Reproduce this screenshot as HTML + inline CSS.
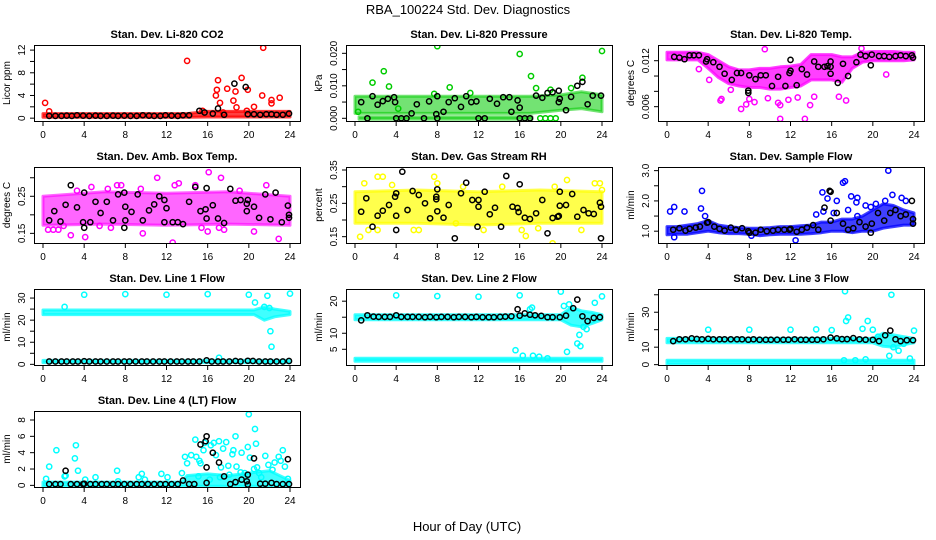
<!DOCTYPE html>
<html><head><meta charset="utf-8">
<style>
html,body{margin:0;padding:0;background:#fff;}
svg{display:block;font-family:"Liberation Sans",Arial,sans-serif;}
</style></head>
<body>
<svg id="fig" width="936" height="540" viewBox="0 0 936 540" xmlns="http://www.w3.org/2000/svg">
<text x="468" y="14" text-anchor="middle" font-size="13">RBA_100224  Std. Dev. Diagnostics</text>
<text x="467" y="531" text-anchor="middle" font-size="13">Hour of Day (UTC)</text>
</svg>
<script>
// ---------- DATA ----------
const xTicks = [0,4,8,12,16,20,24];

// CO2
const co2BandH  = [0,14,16,24];
const co2BandLo = [0.15,0.15,0.2,0.2];
const co2BandHi = [0.8,0.8,1.2,1.2];
const co2Pts = [[0.2,2.7],[0.6,1.2],[14,10.1],[16.8,4],[17,6.7],[16.9,5],[17.2,2.7],[17.9,5.2],[18.5,3.1],[18.7,4.7],[18.8,1.9],[19.3,7.1],[19.9,5],[19.8,1.3],[20.5,2],[21.3,4],[21.4,12.4],[22.2,3.2],[22.2,2.6],[23,3.6],[15.5,1.3],[17.5,1.0]];
const co2Blk = [[0.6,0.4],[1.2,0.4],[1.8,0.4],[2.3,0.45],[2.8,0.4],[3.3,0.5],[3.9,0.45],[4.5,0.4],[5.1,0.45],[5.6,0.4],[6.2,0.4],[6.8,0.45],[7.3,0.4],[7.9,0.45],[8.5,0.4],[9.1,0.4],[9.7,0.5],[10.3,0.45],[10.8,0.4],[11.4,0.4],[11.9,0.5],[12.5,0.45],[13.1,0.4],[13.6,0.5],[14.2,0.5],[15.2,1.3],[15.7,1],[16.5,0.8],[17,1.7],[17.6,0.6],[18.6,6.1],[19.7,5.5],[19.9,0.7],[20.5,0.7],[21.1,0.6],[21.7,0.7],[22.2,0.7],[22.7,0.6],[23.3,0.6],[23.9,0.8]];

// Pressure
const prBandH  = [0,17,20,22,24];
const prBandLo = [0.0015,0.0015,0.0025,0.003,0.002];
const prBandHi = [0.0068,0.0068,0.0072,0.0082,0.0072];
const prBand2H  = [0.4,17.2];
const prBand2Lo = [-0.0003,-0.0003];
const prBand2Hi = [0.0005,0.0005];
const prPts = [[1.7,0.011],[2.8,0.0145],[3.3,0.0098],[8,0.0222],[9.2,0.0095],[16,0.0198],[17.1,0.013],[17.6,0.0093],[22.1,0.0125],[21,0.0093],[24,0.0207],[18,0],[18.5,0],[19,0],[19.5,0],[0.3,0.002],[4.2,0.003],[7.7,0.0075],[11.2,0.0078],[19,0.0088]];
const prBlk = [[0.6,0.005],[1.2,0],[1.7,0.0068],[2.2,0.0042],[2.7,0.0053],[3.2,0.006],[3.8,0.0065],[3.9,0.005],[4,0],[4.5,0],[5,0],[5.5,0.0015],[6,0.0043],[6.7,0],[7.2,0.0052],[7.9,0.0013],[8,0.0068],[8,0],[8.6,0.002],[9.1,0.005],[9.7,0.0062],[10.3,0.0035],[10.8,0.0068],[11.3,0.005],[11.8,0.0052],[12,0],[12.6,0],[13.1,0.006],[13.8,0.0045],[14.4,0.0065],[15,0.0065],[15.2,0.002],[15.8,0.0055],[16,0.0033],[16,0],[16.5,0],[17,0],[17.6,0.007],[18.2,0.0063],[18.7,0.0078],[19.2,0.008],[19.8,0.0085],[19.8,0.005],[19.9,0.006],[20.5,0.0025],[21,0.0066],[21.6,0.01],[22.1,0.0112],[22.6,0.0043],[23.1,0.007],[23.9,0.007]];

// Li-820 Temp
const tmBandH  = [0,1,2,3,4,5,6,7,8,9,10,11,12,13,14,15,16,17,18,19,20,21,22,23,24];
const tmBandLo = [0.0121,0.0121,0.0121,0.0121,0.011,0.0098,0.009,0.0087,0.0085,0.0085,0.0083,0.0083,0.0085,0.0087,0.0095,0.0095,0.0095,0.0092,0.011,0.0118,0.012,0.012,0.012,0.012,0.0121];
const tmBandHi = [0.0131,0.0131,0.0131,0.0131,0.0128,0.012,0.0112,0.0108,0.0108,0.011,0.011,0.0112,0.0113,0.0115,0.0128,0.0128,0.0128,0.0125,0.0125,0.0131,0.0132,0.0132,0.0132,0.0131,0.0131];
const tmPts = [[5.2,0.0068],[5.3,0.007],[7.2,0.0057],[7.7,0.0063],[8.5,0.0066],[9.8,0.0071],[10.8,0.0065],[11,0.0062],[11,0.0044],[11.8,0.0069],[13.4,0.0044],[13.9,0.0062],[14.3,0.0073],[9.5,0.0135],[16.7,0.0073],[17.4,0.0068],[18.9,0.0136],[21.3,0.0102],[8,0.007],[3.1,0.0109],[4.1,0.0095],[6.2,0.0082],[12.7,0.0072]];
const tmBlk = [[0.7,0.0125],[1.2,0.0124],[1.7,0.0122],[2.2,0.0127],[2.6,0.0127],[3.1,0.0127],[3.8,0.0119],[3.9,0.0122],[4.5,0.0118],[5.1,0.0112],[5.6,0.0103],[6.3,0.0095],[6.8,0.0104],[7.2,0.0104],[7.9,0.0081],[7.9,0.0078],[8,0.0101],[8.6,0.0096],[9.1,0.0101],[9.6,0.0101],[10.2,0.0087],[10.8,0.0099],[11.5,0.0087],[11.9,0.0104],[12,0.0107],[12,0.0121],[12.6,0.0088],[13.1,0.0109],[13.6,0.0102],[14.3,0.0119],[14.7,0.0112],[15.3,0.0112],[15.6,0.0113],[15.9,0.0112],[15.9,0.0119],[15.9,0.0103],[16.6,0.0091],[17.1,0.0116],[17.6,0.01],[18.4,0.0118],[18.8,0.0128],[19.3,0.0126],[19.9,0.0128],[19.8,0.0114],[20.6,0.0126],[21.1,0.0126],[21.6,0.0125],[22.2,0.0126],[22.7,0.0127],[23.2,0.0126],[23.8,0.0127],[23.9,0.0124]];

// Amb box temp
const abBandH  = [0,6,12,18,24];
const abBandLo = [0.172,0.175,0.172,0.175,0.172];
const abBandHi = [0.25,0.262,0.258,0.262,0.25];
const abPts = [[0.5,0.16],[1,0.16],[1.5,0.16],[2,0.17],[2.7,0.145],[4.1,0.14],[4.7,0.275],[5.5,0.17],[6.6,0.165],[7.2,0.28],[7.6,0.28],[9.7,0.15],[11.1,0.3],[12.6,0.125],[12.8,0.28],[13.2,0.285],[14.8,0.28],[15.4,0.165],[16,0.155],[16.1,0.315],[17.3,0.3],[17.1,0.165],[17.6,0.16],[20.5,0.155],[21.7,0.28],[22.9,0.135],[9.5,0.27],[3.3,0.265],[19.1,0.265],[6.3,0.27]];
const abBlk = [[0.6,0.185],[1.1,0.21],[1.7,0.182],[2.2,0.227],[2.7,0.28],[3.3,0.22],[3.9,0.18],[4,0.165],[4,0.26],[4.6,0.18],[5.1,0.235],[5.6,0.205],[6.2,0.235],[6.8,0.185],[7.3,0.255],[7.9,0.165],[7.9,0.26],[8,0.185],[8,0.222],[8.6,0.208],[9.2,0.255],[9.7,0.185],[10.3,0.212],[10.8,0.228],[11.3,0.25],[11.8,0.18],[11.8,0.24],[12,0.218],[12.6,0.18],[13.1,0.18],[13.6,0.175],[14.2,0.235],[14.8,0.275],[15.3,0.21],[15.8,0.215],[15.9,0.272],[15.9,0.19],[16.5,0.226],[17,0.19],[17.6,0.178],[18.2,0.27],[18.7,0.238],[19.2,0.24],[19.8,0.21],[19.8,0.23],[19.9,0.24],[20.5,0.222],[21,0.192],[21.6,0.255],[22.1,0.188],[22.6,0.26],[23.2,0.18],[23.8,0.225],[23.9,0.192],[23.9,0.2]];

// Gas stream RH
const rhBandH  = [0,6,12,18,24];
const rhBandLo = [0.19,0.19,0.185,0.19,0.19];
const rhBandHi = [0.285,0.29,0.285,0.29,0.285];
const rhPts = [[0.5,0.15],[0.9,0.31],[2.2,0.33],[2.7,0.33],[3.6,0.305],[5.7,0.17],[7.7,0.33],[8,0.31],[9.8,0.19],[12.5,0.17],[14.3,0.3],[16.2,0.17],[16.6,0.152],[17.8,0.175],[19.2,0.13],[19.4,0.3],[20.6,0.32],[22,0.17],[23.3,0.31],[23.8,0.31],[24,0.29],[1.3,0.17],[2.2,0.17],[6.2,0.17],[10.5,0.3]];
const rhBlk = [[0.6,0.225],[1.1,0.265],[1.7,0.18],[2.2,0.213],[2.7,0.228],[3.3,0.245],[3.9,0.27],[4,0.213],[4,0.28],[4,0.17],[4.6,0.345],[5.1,0.23],[5.6,0.287],[6.2,0.275],[6.8,0.25],[7.3,0.205],[7.9,0.262],[7.9,0.27],[8,0.292],[8,0.226],[8.6,0.207],[9.1,0.245],[9.7,0.145],[10.3,0.28],[10.8,0.312],[11.4,0.26],[11.9,0.18],[12,0.24],[12,0.26],[12.6,0.285],[13.1,0.217],[13.6,0.237],[14.2,0.18],[14.7,0.332],[15.3,0.24],[15.8,0.236],[15.9,0.224],[16,0.307],[16.5,0.207],[17,0.203],[17.6,0.22],[18.2,0.26],[18.7,0.16],[19.2,0.206],[19.7,0.21],[19.8,0.212],[19.9,0.243],[19.9,0.285],[20.5,0.245],[21.1,0.278],[21.6,0.21],[22.2,0.23],[22.7,0.22],[23.2,0.218],[23.8,0.252],[23.9,0.24],[23.9,0.145]];

// Sample flow
const sfBandH  = [0,1,2,3,4,5,6,7,8,9,10,11,12,13,14,15,16,17,18,19,20,21,22,23,24];
const sfBandLo = [0.88,0.9,0.9,0.95,1.0,0.95,0.92,0.92,0.9,0.85,0.88,0.9,0.9,0.9,0.92,0.95,1.0,1.0,0.95,1.0,1.0,1.1,1.15,1.2,1.2];
const sfBandHi = [1.15,1.15,1.2,1.25,1.35,1.2,1.15,1.12,1.1,1.1,1.12,1.15,1.15,1.18,1.2,1.3,1.3,1.4,1.4,1.5,1.7,1.9,1.85,1.7,1.6];
const sfPts = [[0.3,1.65],[0.7,1.8],[1.7,1.65],[3.3,1.75],[3.4,2.33],[3.7,1.5],[12.5,0.7],[14.5,1.55],[15.1,2.28],[15.6,2.08],[15.2,1.65],[16.5,2],[17.1,2.6],[17.3,2.65],[17.6,1.7],[17.9,2.15],[18.4,1.95],[18.5,2.1],[19.3,1.85],[19.8,1.8],[20.3,1.9],[21.2,2.0],[21.5,3.0],[21.9,2.2],[22.8,2.1],[23.2,2.0],[18.5,1.5],[16.2,1.6],[0.7,0.8],[8.2,0.85]];
const sfBlk = [[0.6,1.05],[1.2,1.1],[1.8,1.02],[2.2,1.08],[2.8,1.12],[3.2,1.15],[3.9,1.28],[4,1.3],[4.6,1.15],[5.1,1.08],[5.6,1.02],[6.2,1.12],[6.7,1.05],[7.3,1.1],[7.9,1.0],[8,0.95],[8.6,0.95],[9.1,1.05],[9.7,1.0],[10.3,1.02],[10.8,1.05],[11.4,1.05],[11.9,1.05],[12,1.08],[12.6,0.98],[13.1,1.05],[13.6,1.12],[14.2,1.2],[14.7,1.05],[15.3,1.78],[15.8,2.33],[15.9,2.3],[15.9,1.35],[16.5,1.6],[17.1,1.25],[17.6,1.05],[18.1,1.1],[18.7,1.3],[19.3,1.15],[19.8,0.95],[19.9,1.25],[20.5,1.6],[21.1,1.35],[21.7,1.6],[22.2,1.7],[22.7,1.5],[23.2,1.55],[23.8,2.0],[23.9,1.4],[23.9,1.25]];

// Line 1 flow
const l1BandH  = [0,20.5,21.5,22.5,24];
const l1BandLo = [22.5,22.5,20,21.5,22.5];
const l1BandHi = [24.6,24.6,26,25,24];
const l1Band2H  = [0,24];
const l1Band2Lo = [0.8,0.8];
const l1Band2Hi = [1.8,1.8];
const l1Pts = [[2.1,26],[4,31.5],[8,31.8],[12,31.5],[16,31.8],[17.1,3],[20,31.5],[20.6,28],[21.5,26],[21.8,31],[22,25.5],[22.1,15],[22.2,8],[24,32]];
const l1Blk = [[0.6,1.3],[1.2,1.3],[1.8,1.3],[2.3,1.3],[2.9,1.3],[3.4,1.3],[4,1.4],[4.5,1.3],[5.1,1.3],[5.6,1.3],[6.2,1.3],[6.8,1.3],[7.3,1.3],[7.9,1.3],[8.4,1.3],[9,1.3],[9.6,1.3],[10.1,1.3],[10.7,1.3],[11.3,1.3],[11.8,1.3],[12.4,1.3],[13,1.3],[13.5,1.3],[14.1,1.3],[14.6,1.3],[15.2,1.3],[15.9,1.8],[16.4,1.3],[17,1.3],[17.5,1.3],[18.1,1.3],[18.7,1.5],[19.2,1.3],[19.9,1.6],[20.4,1.5],[21,1.3],[21.6,1.3],[22.1,1.3],[22.7,1.3],[23.3,1.3],[23.9,1.5]];

// Line 2 flow
const l2BandH  = [0,20,21,22,23,24];
const l2BandLo = [14.2,14.2,12.5,12,13,14.2];
const l2BandHi = [15.8,15.8,18,17,16.5,15.8];
const l2Band2H  = [0,24];
const l2Band2Lo = [1.3,1.3];
const l2Band2Hi = [2.2,2.2];
const l2Pts = [[4,21.8],[8,21.6],[12,21.4],[15.6,4.7],[16,21.8],[16.3,3],[17.3,3],[17.9,2.7],[17,17.5],[17.2,18],[20,23],[20.3,18.5],[20.6,4.2],[20.8,19],[21.6,6.8],[21.8,9.5],[21.9,6],[22.2,12],[22.5,11.3],[23.3,19.5],[24,21.5],[18.7,2.2]];
const l2Blk = [[0.6,14],[1.2,15.6],[1.8,15.2],[2.3,15.1],[2.9,15.1],[3.4,15.1],[4,15.6],[4.5,15.1],[5.1,15.1],[5.6,15.1],[6.2,15.1],[6.8,15],[7.3,15.1],[7.9,15],[8.4,15.1],[9,15.1],[9.6,15],[10.1,15.1],[10.7,15.1],[11.3,15],[11.8,15.1],[12.4,15],[13,15],[13.5,15],[14.1,15.1],[14.6,15.2],[15.2,15.3],[15.8,17.5],[16,15.5],[16.5,16.2],[17,15.8],[17.5,15.6],[18.1,15.4],[18.7,15],[19.2,15],[19.9,15],[20.5,15.5],[21.2,17.8],[21.6,20.5],[22.1,15.3],[22.6,13.8],[23.2,14.8],[23.8,15]];

// Line 3 flow
const l3BandH  = [0,20,21,22,23,24];
const l3BandLo = [12.5,12.5,10.5,10,11.5,12.5];
const l3BandHi = [15,15,18,17,16,15];
const l3Band2H  = [0,24];
const l3Band2Lo = [0.3,0.3];
const l3Band2Hi = [2.5,2.5];
const l3Pts = [[4,20],[8,20],[12,20],[14.5,20.2],[16,19.8],[17.3,42],[17.4,25],[17.6,27],[19,20.5],[19.5,25],[20,20],[20.5,16],[21.6,5],[21.8,40],[22,10],[22.5,8],[23,12],[23.6,3.5],[24,19.5],[19.3,3],[17.2,2.5],[18.3,2.5]];
const l3Blk = [[0.6,13.5],[1.2,14.5],[1.8,14.5],[2.4,15],[2.9,14.7],[3.4,14.5],[4,14.8],[4.5,14.5],[5.1,14.5],[5.6,14.5],[6.2,14.5],[6.8,14.5],[7.3,14.5],[7.9,14.3],[8.4,14.5],[9,14.3],[9.6,14.3],[10.1,14.3],[10.7,14.3],[11.3,14.3],[11.8,14.3],[12.4,14.5],[13,14.3],[13.5,14.3],[14.1,14.3],[14.6,14.3],[15.2,14.5],[15.9,15.5],[16.5,15],[17,14.6],[17.5,14.6],[18.1,15.2],[18.7,14.5],[19.3,14.3],[20,14.2],[20.6,13.5],[21.2,16.8],[21.7,19.5],[22.2,14.5],[22.7,13.5],[23.3,14],[23.9,14]];

// Line 4 flow
const l4BandH  = [0,13.5,14,16,18,20,22,24];
const l4BandLo = [-0.1,-0.1,-0.1,-0.1,-0.1,-0.1,-0.1,-0.1];
const l4BandHi = [0.4,0.4,1.2,1.4,1.2,1.5,1.8,0.6];
const l4Pts = [[0.3,0.8],[0.6,2.3],[1.3,4.3],[2.1,1.1],[3.1,3.3],[3.2,4.9],[3.4,1.8],[4.1,0.7],[5.1,1],[7.2,1.8],[7.3,0.5],[9.3,1],[9.6,1.4],[9.9,0.7],[11.5,1.4],[12.1,1],[13.5,1.5],[13.8,3.5],[14.4,3.7],[14.8,5.6],[14.9,3.5],[15.2,3.0],[15.3,2.7],[15.7,5.2],[15.6,4.3],[16.3,4.9],[16.6,5.2],[16.8,3.7],[17.1,5.4],[17.3,2.2],[17.5,4.5],[17.8,5.3],[18,2.4],[18.4,3.8],[18.5,4.3],[18.7,6],[18.8,2.3],[19.3,4],[19.6,1.5],[19.9,4.7],[20,8.7],[20.1,3.4],[20.6,6.9],[20.7,5.1],[20.8,2.2],[21,1.5],[21.6,3.6],[21.9,2.5],[22.3,1.9],[22.5,2.8],[22.9,3.5],[23.1,3.0],[23.3,4.3],[23.5,2.3],[23.8,0.8],[16.2,0.7],[19.2,1.6],[14,2.7],[15.1,1.1],[17.2,1.0],[18.1,1.3],[20.5,2],[21.2,1],[2.2,1.2]];
const l4Blk = [[0.6,0.15],[1.2,0.15],[1.7,0.15],[2.2,1.8],[2.7,0.15],[3.3,0.15],[3.9,0.15],[4,0.2],[4.6,0.15],[5.1,0.15],[5.7,0.15],[6.2,0.15],[6.8,0.15],[7.3,0.15],[7.9,0.15],[8.5,0.15],[9.1,0.15],[9.6,0.15],[10.2,0.15],[10.8,0.15],[11.4,0.15],[11.9,0.15],[12.5,0.15],[13.1,0.15],[13.6,0.6],[14.2,0.15],[14.7,0.15],[15.3,5],[15.8,5.4],[15.9,6],[15.9,2.2],[15.9,0.3],[16.5,4],[17.1,2.8],[17.6,1.1],[18.2,0.15],[18.7,0.4],[19.3,0.7],[19.8,0.5],[19.9,1.3],[19.9,0.1],[20.5,3.3],[21.1,0.2],[21.6,0.2],[22.2,0.3],[22.7,0.15],[23.3,0.15],[23.8,3.2],[23.9,0.15]];

// ---------- RENDER ----------
const NS = "http://www.w3.org/2000/svg";
const svg = document.getElementById('fig');
const colLeft = [34, 346, 658];
const rowTop = [45, 167, 289, 411];
const BW = 266, BH = 76;

function mk(tag, attrs, parent){
  const e = document.createElementNS(NS, tag);
  for (const k in attrs) e.setAttribute(k, attrs[k]);
  (parent||svg).appendChild(e);
  return e;
}

function panel(cfg){
  const L = colLeft[cfg.col], T = rowTop[cfg.row], R = L+BW, B = T+BH;
  const x0 = L+9, x24 = L+256;
  const xs = h => x0 + (x24-x0)*h/24;
  const ys = v => B - (v-cfg.ylo)/(cfg.yhi-cfg.ylo)*BH;
  const g = mk('g', {});
  
  
  const cid = 'clip-' + cfg.name;
  const cp = mk('clipPath', {id: cid}, g);
  mk('rect', {x: L, y: T, width: BW, height: BH}, cp);
  const plot = mk('g', {'clip-path': 'url(#'+cid+')'}, g);
  
  
  const op = cfg.bandOpacity || 0.75;
  (cfg.bands||[]).forEach((bd, bi) => {
    const [H, LO, HI] = bd;
    let pts = [];
    for (let i=0;i<H.length;i++) pts.push(xs(H[i]).toFixed(1)+','+ys(HI[i]).toFixed(1));
    for (let i=H.length-1;i>=0;i--) pts.push(xs(H[i]).toFixed(1)+','+ys(LO[i]).toFixed(1));
    const p = mk('polygon', {points: pts.join(' '), fill: cfg.color, 'fill-opacity': op, stroke: cfg.color, 'stroke-opacity': op, 'stroke-width': 3, 'stroke-linejoin': 'round'}, plot);
    
    
  });
  cfg.pts.forEach(d => {
    const c = mk('circle', {cx: xs(d[0]).toFixed(1), cy: ys(d[1]).toFixed(1), r: 2.6, fill: 'none', stroke: cfg.color, 'stroke-width': 1.5}, plot);
    
    
  });
  cfg.blk.forEach(d => {
    const c = mk('circle', {cx: xs(d[0]).toFixed(1), cy: ys(d[1]).toFixed(1), r: 2.6, fill: 'none', stroke: '#000', 'stroke-width': 1.5}, plot);
    
    
  });
  const box = mk('rect', {x: L+0.5, y: T+0.5, width: BW, height: BH, fill: 'none', stroke: '#000', 'stroke-width': 1}, g);
  
  
  const xa = mk('g', {}, g);
  
  
  mk('line', {x1: xs(0), x2: xs(24), y1: B+0.5, y2: B+0.5, stroke: '#000'}, xa);
  xTicks.forEach(t => {
    mk('line', {x1: xs(t), x2: xs(t), y1: B, y2: B+5, stroke: '#000'}, xa);
    const tx = mk('text', {x: xs(t), y: B+17, 'text-anchor': 'middle', 'font-size': 10}, xa);
    tx.textContent = t;
    
    
  });
  const ya = mk('g', {}, g);
  
  
  const t0 = cfg.yticks[0], tn = cfg.yticks[cfg.yticks.length-1];
  mk('line', {x1: L+0.5, x2: L+0.5, y1: ys(t0), y2: ys(tn), stroke: '#000'}, ya);
  cfg.yticks.forEach((t, i) => {
    const y = ys(t);
    mk('line', {x1: L-4, x2: L, y1: y, y2: y, stroke: '#000'}, ya);
    if (cfg.ylabels[i] !== '') {
      const tx = mk('text', {x: L-9, y: y, 'text-anchor': 'middle', 'font-size': 10, transform: 'rotate(-90 '+(L-9)+' '+y+')'}, ya);
      tx.textContent = cfg.ylabels[i];
      
      
    }
  });
  const yl = mk('text', {x: L-24, y: T+BH/2, 'text-anchor': 'middle', 'font-size': 10, transform: 'rotate(-90 '+(L-24)+' '+(T+BH/2)+')'}, g);
  yl.textContent = cfg.ylab;
  
  
  const tt = mk('text', {x: L+BW/2, y: T-7, 'text-anchor': 'middle', 'font-size': 11, 'font-weight': 'bold'}, g);
  tt.textContent = cfg.title;
  
  
}

panel({name:'co2', col:0,row:0, ylo:-0.5, yhi:12.9, color:'#ff0000', title:'Stan. Dev. Li-820 CO2', ylab:'Licor ppm',
  yticks:[0,2,4,6,8,10,12], ylabels:['0','','4','','8','','12'],
  bands:[[co2BandH,co2BandLo,co2BandHi]], pts:co2Pts, blk:co2Blk});
panel({name:'pressure', col:1,row:0, ylo:-0.00083, yhi:0.02256, color:'#00cc00', bandOpacity:0.55, title:'Stan. Dev. Li-820 Pressure', ylab:'kPa',
  yticks:[0,0.005,0.01,0.015,0.02], ylabels:['0.000','','0.010','','0.020'],
  bands:[[prBandH,prBandLo,prBandHi],[prBand2H,prBand2Lo,prBand2Hi]], pts:prPts, blk:prBlk});
panel({name:'licor-temp', col:2,row:0, ylo:0.00413, yhi:0.01405, color:'#ff00ff', title:'Stan. Dev. Li-820 Temp.', ylab:'degrees C',
  yticks:[0.006,0.008,0.01,0.012], ylabels:['0.006','','','0.012'],
  bands:[[tmBandH,tmBandLo,tmBandHi]], pts:tmPts, blk:tmBlk});
panel({name:'amb-box-temp', col:0,row:1, ylo:0.124, yhi:0.329, color:'#ff00ff', bandOpacity:0.6, title:'Stan. Dev. Amb. Box Temp.', ylab:'degrees C',
  yticks:[0.15,0.2,0.25,0.3], ylabels:['0.15','','0.25',''],
  bands:[[abBandH,abBandLo,abBandHi]], pts:abPts, blk:abBlk});
panel({name:'gas-rh', col:1,row:1, ylo:0.131, yhi:0.359, color:'#ffff00', bandOpacity:0.7, title:'Stan. Dev. Gas Stream RH', ylab:'percent',
  yticks:[0.15,0.2,0.25,0.3,0.35], ylabels:['0.15','','0.25','','0.35'],
  bands:[[rhBandH,rhBandLo,rhBandHi]], pts:rhPts, blk:rhBlk});
panel({name:'sample-flow', col:2,row:1, ylo:0.61, yhi:3.12, color:'#0000ff', title:'Stan. Dev. Sample Flow', ylab:'ml/min',
  yticks:[1,1.5,2,2.5,3], ylabels:['1.0','','2.0','','3.0'],
  bands:[[sfBandH,sfBandLo,sfBandHi]], pts:sfPts, blk:sfBlk});
panel({name:'line1-flow', col:0,row:2, ylo:-0.3, yhi:34.1, color:'#00ffff', title:'Stan. Dev. Line 1 Flow', ylab:'ml/min',
  yticks:[0,5,10,15,20,25,30], ylabels:['0','','10','','20','','30'],
  bands:[[l1BandH,l1BandLo,l1BandHi],[l1Band2H,l1Band2Lo,l1Band2Hi]], pts:l1Pts, blk:l1Blk});
panel({name:'line2-flow', col:1,row:2, ylo:0.1, yhi:23.8, color:'#00ffff', title:'Stan. Dev. Line 2 Flow', ylab:'ml/min',
  yticks:[5,10,15,20], ylabels:['5','10','','20'],
  bands:[[l2BandH,l2BandLo,l2BandHi],[l2Band2H,l2Band2Lo,l2Band2Hi]], pts:l2Pts, blk:l2Blk});
panel({name:'line3-flow', col:2,row:2, ylo:-0.2, yhi:43.3, color:'#00ffff', title:'Stan. Dev. Line 3 Flow', ylab:'ml/min',
  yticks:[0,10,20,30,40], ylabels:['0','10','','30',''],
  bands:[[l3BandH,l3BandLo,l3BandHi],[l3Band2H,l3Band2Lo,l3Band2Hi]], pts:l3Pts, blk:l3Blk});
panel({name:'line4-flow', col:0,row:3, ylo:-0.2, yhi:9.1, color:'#00ffff', title:'Stan. Dev. Line 4 (LT) Flow', ylab:'ml/min',
  yticks:[0,2,4,6,8], ylabels:['0','2','4','6','8'],
  bands:[[l4BandH,l4BandLo,l4BandHi]], pts:l4Pts, blk:l4Blk});
</script>
</body></html>
